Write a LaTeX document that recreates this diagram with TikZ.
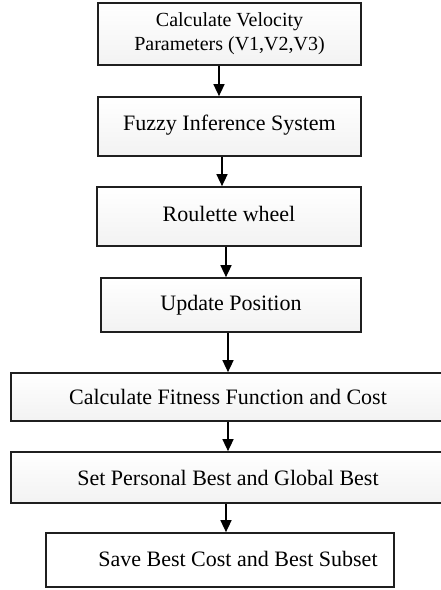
\documentclass[tikz,border=0pt]{standalone}
\usepackage{fontspec}
\setmainfont{Liberation Serif}
\usetikzlibrary{arrows.meta}
\begin{document}
\begin{tikzpicture}[x=1pt,y=-1pt,
  box/.style={draw=black!88,line width=1.7pt,top color=white,bottom color=black!5,
    inner sep=0pt,align=center,font=\fontsize{22}{26}\selectfont},
  plainbox/.style={box,top color=white,bottom color=white},
  arr/.style={draw=black,line width=1.5pt,-{Triangle[width=11pt,length=12pt]}}]
\useasboundingbox (0,0) rectangle (440,590);

% process steps
\node[box,minimum width=263pt,minimum height=62pt,font=\fontsize{20}{24}\selectfont] (b1) at (229.5,34)
  {\raisebox{-3pt}{\begin{tabular}{@{}c@{}}Calculate Velocity\\Parameters (V1,V2,V3)\end{tabular}}};
\node[box,minimum width=263pt,minimum height=59pt] (b2) at (229.5,126.5)
  {\raisebox{7pt}{Fuzzy Inference System}};
\node[box,minimum width=264pt,minimum height=59pt] (b3) at (229,216.5)
  {\raisebox{5pt}{Roulette wheel}};
\node[box,minimum width=260pt,minimum height=54pt] (b4) at (231,305)
  {\raisebox{3pt}{Update Position}};
\node[box,minimum width=434pt,minimum height=48pt] (b5) at (228,397)
  {Calculate Fitness Function and Cost};
\node[box,minimum width=434pt,minimum height=51pt] (b6) at (228,477.5)
  {Set Personal Best and Global Best};
\node[plainbox,minimum width=348pt,minimum height=54pt] (b7) at (220,560)
  {\raisebox{3pt}{\hspace*{36pt}Save Best Cost and Best Subset}};

% arrow columns
\coordinate (c1) at (219,0);
\coordinate (c2) at (222,0);
\coordinate (c3) at (226,0);
\coordinate (c4) at (228,0);

\draw[arr] (b1.south -| c1) -- (b2.north -| c1);
\draw[arr] (b2.south -| c2) -- (b3.north -| c2);
\draw[arr] (b3.south -| c3) -- (b4.north -| c3);
\draw[arr] (b4.south -| c4) -- (b5.north -| c4);
\draw[arr] (b5.south -| c4) -- (b6.north -| c4);
\draw[arr] (b6.south -| c3) -- (b7.north -| c3);
\end{tikzpicture}
\end{document}
